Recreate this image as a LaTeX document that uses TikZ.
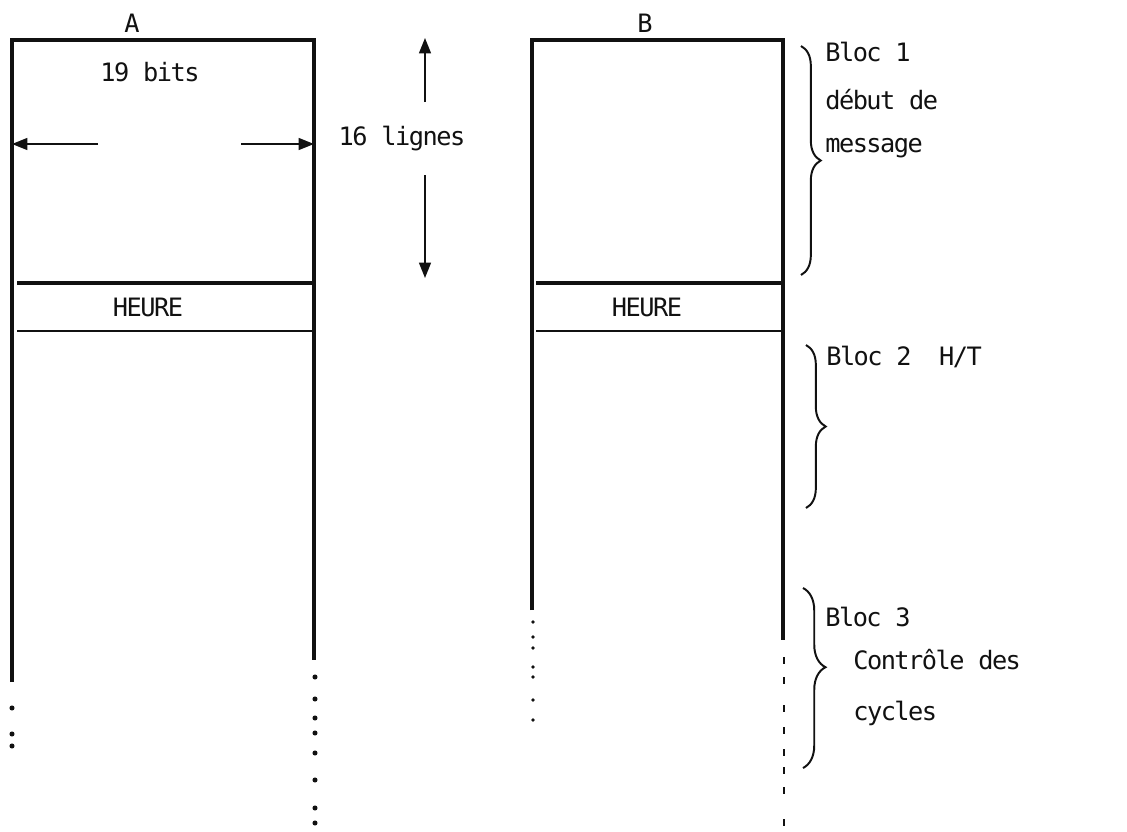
\documentclass[tikz,border=0pt]{standalone}
\usepackage{fontspec}
\setmonofont{DejaVu Sans Mono}[LetterSpace=-6]
\usepackage{tikz}
\usetikzlibrary{arrows.meta, decorations.pathreplacing}
\usepackage{xcolor}
\definecolor{PlotInk}{HTML}{111111}
\tikzset{
    % Text styles
    labeltext/.style={
        font=\ttfamily\fontsize{18}{22}\selectfont,
        text=PlotInk,
        inner sep=0pt
    },
    sidetext/.style={
        labeltext,
        anchor=west
    },
    % Line styles
    wordline/.style={
        draw=PlotInk,
        line width=2.2pt
    },
    thinline/.style={
        draw=PlotInk,
        line width=1.5pt
    },
    dimarrow/.style={
        -{Triangle[length=11pt,width=8.5pt]},
        draw=PlotInk,
        line width=1.3pt
    },
    blocbrace/.style={
        decorate,
        decoration={brace,amplitude=#1},
        draw=PlotInk,
        line width=1.4pt
    },
    inkdot/.style={
        fill=PlotInk
    }
}

\begin{document}
\begin{tikzpicture}[x=0.025cm, y=-0.025cm]
    \useasboundingbox (0,0) rectangle (1127,831);

    % Word A
    \coordinate (aTL) at (12,40);
    \coordinate (aTR) at (314,40);
    \draw[wordline] (12,682) -- (aTL) -- (aTR) -- (314,660);
    \draw[wordline] (17,283) -- (315,283);
    \draw[thinline] (17,331) -- (314,331);
    \foreach \y in {708,734,746}
        \fill[inkdot] (12,\y) circle[radius=1.8pt];
    \foreach \y in {677,699,718,733,753,780,808,823}
        \fill[inkdot] (315,\y) circle[radius=1.8pt];

    % Word B
    \coordinate (bTL) at (532,40);
    \coordinate (bTR) at (783,40);
    \draw[wordline] (532,610) -- (bTL) -- (bTR) -- (783,640);
    \draw[wordline] (536,283) -- (783,283);
    \draw[thinline] (536,331) -- (783,331);
    \foreach \y in {622,637,648,667,677,700,720}
        \fill[inkdot] (533,\y) circle[radius=1.3pt];
    \foreach \y in {660,680,708,730,752,770,790,822}
        \draw[thinline] (784,\y-3) -- (784,\y+4);

    % Labels
    \node[labeltext] (colA) at (132,23) {A};
    \node[labeltext] (colB) at (645,23) {B};
    \node[labeltext] (bits) at (150,72) {19 bits};
    \node[labeltext] (heureA) at (148,307) {HEURE};
    \node[labeltext] (heureB) at (647,307) {HEURE};
    \node[labeltext] (lignes) at (402,139) {16 lignes};

    % Dimension arrows
    \coordinate (bitsL) at (98,144);
    \coordinate (bitsR) at (241,144);
    \draw[dimarrow] (bitsL) -- (aTL |- bitsL);
    \draw[dimarrow] (bitsR) -- (aTR |- bitsR);
    \coordinate (lgUp) at (425,102);
    \coordinate (lgTop) at (425,38);
    \coordinate (lgDown) at (425,175);
    \coordinate (lgBot) at (425,278);
    \draw[dimarrow] (lgUp) -- (lgTop);
    \draw[dimarrow] (lgDown) -- (lgBot);

    % Blocs
    \draw[blocbrace=14pt] (801,46) -- (801,275);
    \draw[blocbrace=14pt] (806,345) -- (806,508);
    \draw[blocbrace=16pt,decoration={aspect=0.44}] (803,588) -- (803,768);

    \node[sidetext] (bloc1) at (825,52) {Bloc 1};
    \node[sidetext] (debut) at (825,100) {début de};
    \node[sidetext] (msg) at (825,148) {message};
    \node[sidetext] (bloc2) at (826,357) {Bloc 2~~H/T};
    \node[sidetext] (bloc3) at (825,617) {Bloc 3};
    \node[sidetext] (ctrl) at (853,660) {Contrôle des};
    \node[sidetext] (cyc) at (853,713) {cycles};
\end{tikzpicture}
\end{document}
